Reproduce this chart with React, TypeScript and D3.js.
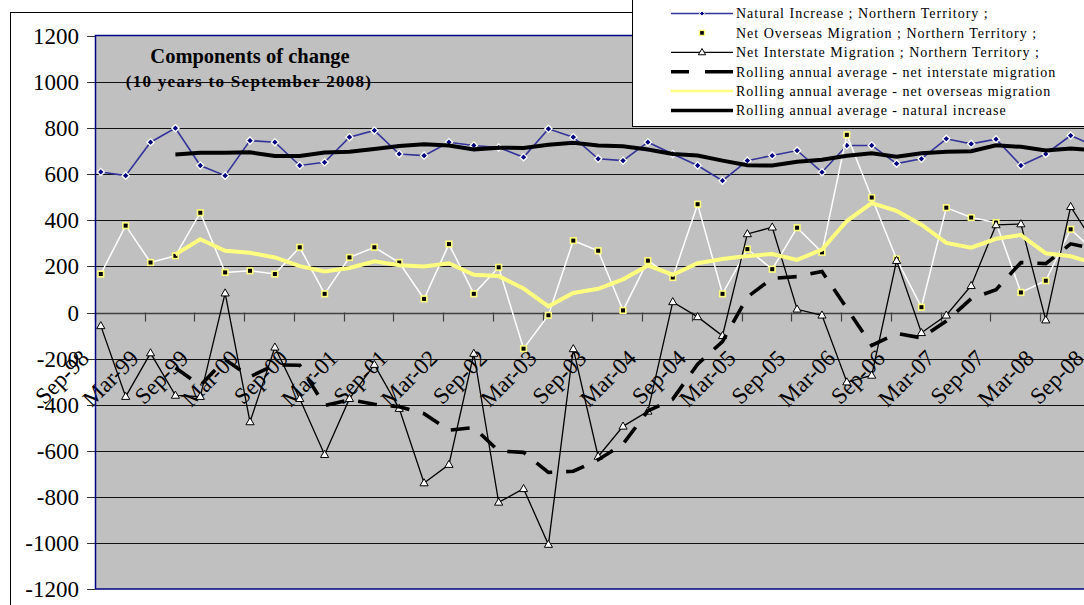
import React from "react";
import * as d3 from "d3";

const quarters = ["Sep-98","Dec-98","Mar-99","Jun-99","Sep-99","Dec-99","Mar-00","Jun-00","Sep-00","Dec-00","Mar-01","Jun-01","Sep-01","Dec-01","Mar-02","Jun-02","Sep-02","Dec-02","Mar-03","Jun-03","Sep-03","Dec-03","Mar-04","Jun-04","Sep-04","Dec-04","Mar-05","Jun-05","Sep-05","Dec-05","Mar-06","Jun-06","Sep-06","Dec-06","Mar-07","Jun-07","Sep-07","Dec-07","Mar-08","Jun-08","Sep-08"];

const tickLabels = ["Sep-98","Mar-99","Sep-99","Mar-00","Sep-00","Mar-01","Sep-01","Mar-02","Sep-02","Mar-03","Sep-03","Mar-04","Sep-04","Mar-05","Sep-05","Mar-06","Sep-06","Mar-07","Sep-07","Mar-08","Sep-08"];

const yTicks = [-1200, -1000, -800, -600, -400, -200, 0, 200, 400, 600, 800, 1000, 1200];

const naturalIncrease = [610, 594, 739, 800, 638, 594, 746, 739, 638, 652, 761, 790, 688, 681, 739, 725, 716, 674, 797, 761, 667, 659, 739, 688, 638, 572, 659, 681, 703, 609, 725, 725, 646, 667, 754, 732, 752, 638, 688, 768, 720];
const netOverseas = [167, 377, 217, 246, 433, 174, 181, 167, 283, 81, 239, 283, 217, 59, 297, 81, 196, -157, -12, 312, 268, 9, 225, 152, 470, 81, 275, 188, 368, 261, 771, 499, 232, 23, 455, 412, 390, 87, 138, 361, 260];
const netInterstate = [-58, -365, -176, -360, -365, 84, -475, -151, -374, -617, -374, -226, -417, -740, -660, -178, -824, -765, -1007, -158, -625, -494, -429, 46, -19, -101, 341, 370, 14, -12, -302, -273, 225, -88, -12, 116, 380, 384, -33, 459, 290];
const rollingInterstate = [null, null, null, -240, -317, -204, -279, -227, -229, -404, -379, -398, -409, -439, -511, -499, -601, -607, -694, -689, -639, -571, -427, -376, -224, -126, 67, 148, 156, 178, 18, -143, -91, -110, -37, 60, 99, 217, 212, 298, 275];
const rollingOverseas = [null, null, null, 252, 318, 268, 259, 239, 201, 178, 193, 222, 205, 200, 214, 164, 158, 104, 27, 85, 103, 144, 204, 164, 214, 232, 245, 254, 228, 273, 397, 475, 441, 381, 302, 281, 320, 336, 257, 244, 212];
const rollingNatural = [null, null, null, 686, 693, 693, 695, 679, 679, 694, 698, 710, 723, 730, 725, 708, 715, 714, 728, 737, 725, 721, 707, 688, 681, 659, 639, 638, 654, 663, 680, 691, 676, 691, 698, 700, 726, 719, 703, 712, 704];

const legendLabels = [
  "Natural Increase ; Northern Territory ;",
  "Net Overseas Migration ; Northern Territory ;",
  "Net Interstate Migration ; Northern Territory ;",
  "Rolling annual average - net interstate migration",
  "Rolling annual average - net overseas migration",
  "Rolling annual average - natural increase",
];

const W = 1084;
const H = 605;
const PL = 95, PT = 36, PB = 589, PR = 1098;
const SERIF = "'Liberation Serif', 'Times New Roman', Times, serif";
const BLUE = "#333399";
const NAVY = "#000080";
const YELLOW = "#FFFF80";

const monthsSpan = 121;
const x = d3.scaleLinear().domain([0, monthsSpan]).range([PL, PR]);
const y = d3.scaleLinear().domain([-1200, 1200]).range([PB, PT]);
const px = (i: number) => x(i * 3 + 0.7);

function linePath(vals: (number | null)[]) {
  return d3
    .line<number | null>()
    .defined((d) => d != null)
    .x((_, i) => px(i))
    .y((d) => y(d as number))(vals) || "";
}

const diamond = (cx: number, cy: number, r: number) =>
  `M${cx},${cy - r}L${cx + r},${cy}L${cx},${cy + r}L${cx - r},${cy}Z`;
const triangle = (cx: number, cy: number, r: number) =>
  `M${cx},${cy - r}L${cx + r * 0.95},${cy + r * 0.65}L${cx - r * 0.95},${cy + r * 0.65}Z`;

export default function App() {
  const legendRowY = (r: number) => 13.5 + r * 19.4;
  const lx0 = 671, lx1 = 733, ltx = 736;
  return (
    <div style={{ position: "fixed", left: 0, top: 0, width: W, height: H, background: "#fff" }}>
      <svg width={W} height={H} style={{ display: "block" }} fontFamily={SERIF}>
        <defs>
          <clipPath id="plotClip">
            <rect x={PL} y={PT - 6} width={PR - PL + 6} height={PB - PT + 12} />
          </clipPath>
        </defs>
        {/* chart border */}
        <rect x={10.5} y={12.5} width={W + 20} height={H + 20} fill="#fff" stroke="#000" strokeWidth={1} />
        {/* plot area */}
        <rect x={PL} y={PT} width={PR - PL} height={PB - PT} fill="#C0C0C0" />
        {/* gridlines */}
        {yTicks.filter((t) => t !== -1200 && t !== 1200 && t !== 0).map((t) => (
          <line key={"g" + t} x1={PL} x2={PR} y1={Math.round(y(t)) + 0.5} y2={Math.round(y(t)) + 0.5} stroke="#111" strokeWidth={1} />
        ))}
        {/* y ticks & labels */}
        {yTicks.map((t) => (
          <g key={"y" + t}>
            <line x1={87} x2={PL} y1={Math.round(y(t)) + 0.5} y2={Math.round(y(t)) + 0.5} stroke="#333" />
            <text x={79} y={y(t)} dy="0.35em" textAnchor="end" fontSize={23} fill="#000">
              {t}
            </text>
          </g>
        ))}
        {/* x axis at zero */}
        <line x1={PL} x2={PR} y1={Math.round(y(0)) + 0.5} y2={Math.round(y(0)) + 0.5} stroke="#404040" strokeWidth={1.5} />
        {tickLabels.map((lab, k) => (
          <g key={"x" + k}>
            <line x1={Math.round(x(k * 6)) + 0.5} x2={Math.round(x(k * 6)) + 0.5} y1={y(0)} y2={y(0) + 9} stroke="#404040" strokeWidth={1.2} />
            <text
              transform={`translate(${x(k * 6) - 4.5},${y(0) + 47}) rotate(-45)`}
              textAnchor="end"
              fontSize={23}
              fill="#000"
            >
              {lab}
            </text>
          </g>
        ))}
        {/* title */}
        <text x={250} y={63} textAnchor="middle" fontSize={20.5} fontWeight="bold" fill="#000">
          Components of change
        </text>
        <text x={249} y={87} textAnchor="middle" fontSize={17} fontWeight="bold" letterSpacing={1.3} fill="#000">
          (10 years to September 2008)
        </text>
        {/* series */}
        <g clipPath="url(#plotClip)">
          <path d={linePath(naturalIncrease)} fill="none" stroke={BLUE} strokeWidth={1.6} />
          {naturalIncrease.map((v, i) => (
            <path key={"n" + i} d={diamond(px(i), y(v), 3.6)} fill={NAVY} stroke="#fff" strokeWidth={1.3} />
          ))}
          <path d={linePath(netOverseas)} fill="none" stroke="#fff" strokeWidth={1.5} />
          {netOverseas.map((v, i) => (
            <rect key={"o" + i} x={px(i) - 2.8} y={y(v) - 2.8} width={5.6} height={5.6} fill="#000" stroke={YELLOW} strokeWidth={1.6} />
          ))}
          <path d={linePath(netInterstate)} fill="none" stroke="#000" strokeWidth={1.3} />
          {netInterstate.map((v, i) => (
            <path key={"m" + i} d={triangle(px(i), y(v), 4.3)} fill="#fff" stroke="#000" strokeWidth={1} />
          ))}
          <path d={linePath(rollingInterstate)} fill="none" stroke="#000" strokeWidth={3.6} strokeDasharray="19,14" />
          <path d={linePath(rollingOverseas)} fill="none" stroke={YELLOW} strokeWidth={4} />
          <path d={linePath(rollingNatural)} fill="none" stroke="#000" strokeWidth={4} />
        </g>
        {/* plot border */}
        <rect x={PL + 0.5} y={PT - 0.5} width={PR - PL} height={PB - PT + 0.5} fill="none" stroke={NAVY} strokeWidth={1.5} />
        {/* legend */}
        <rect x={632.5} y={-1} width={470} height={127.5} fill="#fff" stroke="#000" strokeWidth={1} />
        {legendLabels.map((lab, r) => {
          const ly = legendRowY(r);
          const cx = (lx0 + lx1) / 2;
          let sample: React.ReactNode = null;
          if (r === 0)
            sample = (
              <g>
                <line x1={lx0} x2={lx1} y1={ly} y2={ly} stroke={BLUE} strokeWidth={1.4} />
                <path d={diamond(cx, ly, 2.6)} fill={NAVY} stroke="#fff" strokeWidth={1} />
              </g>
            );
          else if (r === 1)
            sample = <rect x={cx - 2.5} y={ly - 2.5} width={5} height={5} fill="#000" stroke={YELLOW} strokeWidth={1.4} />;
          else if (r === 2)
            sample = (
              <g>
                <line x1={lx0} x2={lx1} y1={ly} y2={ly} stroke="#000" strokeWidth={1.3} />
                <path d={triangle(cx, ly, 3.8)} fill="#fff" stroke="#000" strokeWidth={1} />
              </g>
            );
          else if (r === 3)
            sample = <line x1={lx0} x2={lx1} y1={ly} y2={ly} stroke="#000" strokeWidth={3.4} strokeDasharray="18,16,40" />;
          else if (r === 4)
            sample = <line x1={lx0} x2={lx1} y1={ly} y2={ly} stroke={YELLOW} strokeWidth={2.5} />;
          else sample = <line x1={lx0} x2={lx1} y1={ly} y2={ly} stroke="#000" strokeWidth={3.4} />;
          return (
            <g key={"l" + r}>
              {sample}
              <text x={ltx} y={ly} dy="0.35em" fontSize={14} letterSpacing={1} fill="#000">
                {lab}
              </text>
            </g>
          );
        })}
      </svg>
    </div>
  );
}
